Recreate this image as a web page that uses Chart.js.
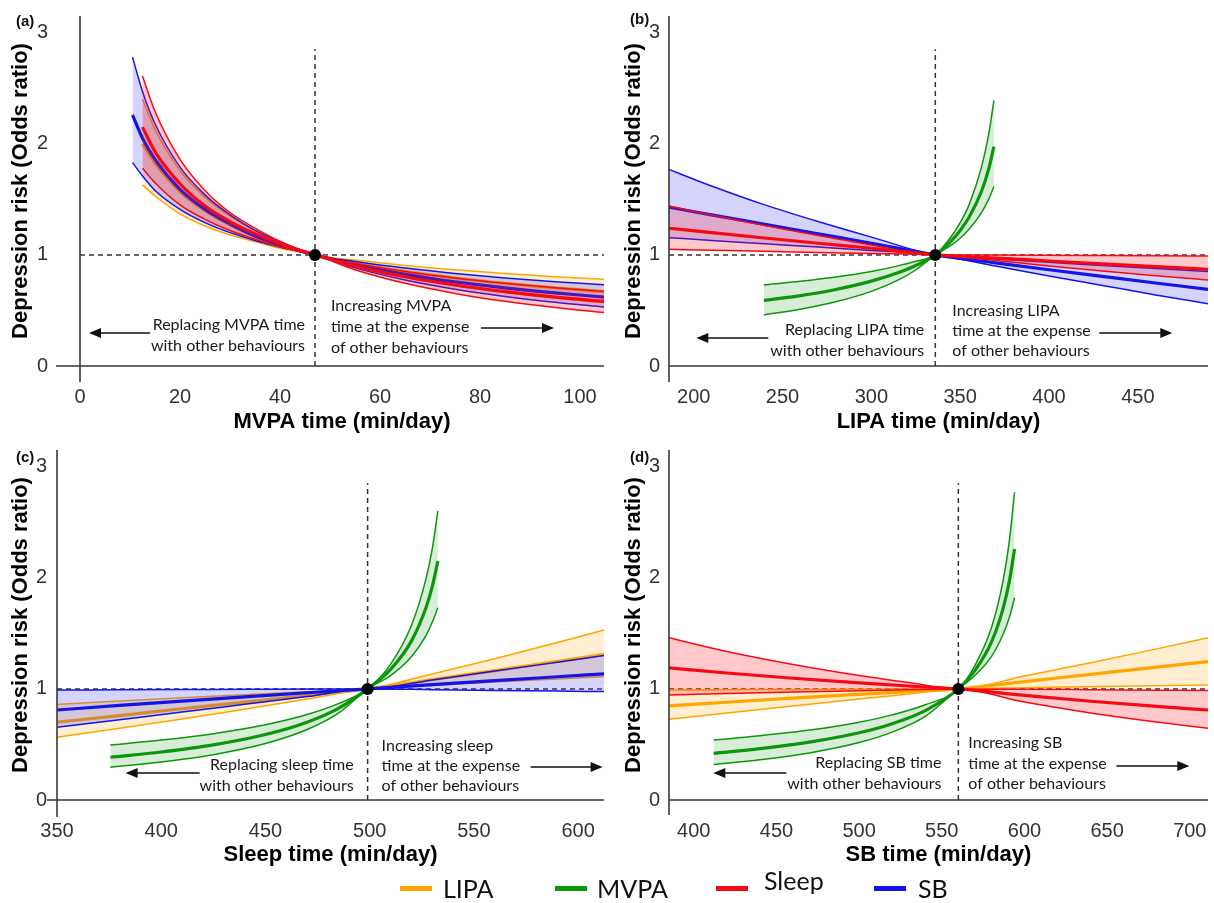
<!DOCTYPE html>
<html><head><meta charset="utf-8">
<script src="https://cdn.jsdelivr.net/npm/chart.js@4.4.1/dist/chart.umd.min.js"></script>
<style>
html,body{margin:0;padding:0;background:#fff;}
#wrap{position:relative;width:1214px;height:903px;overflow:hidden;background:#fff;}
#wrap canvas{position:absolute;}
.lgt{position:absolute;font-family:Lato,"Open Sans",sans-serif;font-size:25px;color:#111;line-height:26px;white-space:nowrap;}
.lgl{position:absolute;height:5px;width:32px;}
</style></head><body>
<div id="wrap">
<canvas id="ca" width="610" height="440" style="left:0px;top:0px"></canvas>
<canvas id="cb" width="604" height="440" style="left:610px;top:0px"></canvas>
<canvas id="cc" width="610" height="430" style="left:0px;top:440px"></canvas>
<canvas id="cd" width="604" height="430" style="left:610px;top:440px"></canvas>
<div id="legend"></div>
</div>
<script>
// ---------- shared ----------
const yTicks = [0, 1, 2, 3];
const yRange = [0, 3.15];
const refTop = 2.85;
const legendNames = ['LIPA', 'MVPA', 'Sleep', 'SB'];

// ---------- Panel (a): MVPA ----------
const aRef = 47;
const aXRange = [0, 104.8];
const aTicks = [0, 20, 40, 60, 80, 100];
const aX_SB = [10.5, 12.5, 15, 20, 25, 30, 35, 40, 47, 55, 65, 75, 85, 95, 105];
const aX = [12.5, 15, 20, 25, 30, 35, 40, 47, 55, 65, 75, 85, 95, 105];
const aLIPA_hi = [2.40, 2.13, 1.76, 1.52, 1.35, 1.22, 1.11, 1, 0.953, 0.905, 0.866, 0.833, 0.804, 0.78];
const aLIPA_mean = [2.00, 1.83, 1.57, 1.40, 1.27, 1.17, 1.09, 1, 0.925, 0.851, 0.792, 0.744, 0.704, 0.67];
const aLIPA_lo = [1.63, 1.53, 1.37, 1.26, 1.18, 1.12, 1.06, 1, 0.896, 0.797, 0.722, 0.661, 0.611, 0.57];
const aSleep_hi = [2.61, 2.29, 1.86, 1.58, 1.38, 1.24, 1.12, 1, 0.925, 0.851, 0.792, 0.744, 0.704, 0.67];
const aSleep_mean = [2.15, 1.93, 1.64, 1.44, 1.30, 1.19, 1.10, 1, 0.899, 0.803, 0.729, 0.669, 0.620, 0.58];
const aSleep_lo = [1.78, 1.65, 1.45, 1.32, 1.22, 1.14, 1.07, 1, 0.866, 0.744, 0.653, 0.582, 0.526, 0.48];
const aSB_hi = [2.78, 2.47, 2.18, 1.79, 1.54, 1.36, 1.22, 1.12, 1, 0.940, 0.881, 0.833, 0.793, 0.759, 0.73];
const aSB_mean = [2.26, 2.05, 1.86, 1.59, 1.41, 1.28, 1.17, 1.09, 1, 0.911, 0.825, 0.757, 0.703, 0.658, 0.62];
const aSB_lo = [1.83, 1.71, 1.58, 1.41, 1.29, 1.20, 1.13, 1.07, 1, 0.883, 0.774, 0.691, 0.626, 0.573, 0.53];

// ---------- Panel (b): LIPA ----------
const bRef = 336;
const bXRange = [186.1, 489.5];
const bTicks = [200, 250, 300, 350, 400, 450];
const bX = [186, 210, 240, 270, 300, 336, 370, 400, 430, 460, 489.5];
const bSB_hi = [1.77, 1.62, 1.45, 1.30, 1.16, 1, 0.963, 0.933, 0.905, 0.877, 0.85];
const bSB_mean = [1.43, 1.36, 1.275, 1.19, 1.105, 1, 0.928, 0.866, 0.806, 0.747, 0.69];
const bSB_lo = [1.155, 1.13, 1.10, 1.07, 1.04, 1, 0.90, 0.81, 0.725, 0.64, 0.56];
const bSleep_hi = [1.44, 1.36, 1.265, 1.175, 1.09, 1, 0.998, 0.996, 0.994, 0.992, 0.99];
const bSleep_mean = [1.24, 1.20, 1.152, 1.105, 1.06, 1, 0.972, 0.945, 0.919, 0.894, 0.87];
const bSleep_lo = [1.05, 1.042, 1.032, 1.022, 1.013, 1, 0.95, 0.90, 0.855, 0.813, 0.775];
const bMX = [239.5, 260, 280, 300, 315, 325, 336, 345, 350, 355, 362, 366, 369];
const bMVPA_hi = [0.73, 0.762, 0.801, 0.851, 0.901, 0.942, 1, 1.165, 1.29, 1.45, 1.79, 2.08, 2.39];
const bMVPA_mean = [0.59, 0.634, 0.689, 0.764, 0.839, 0.905, 1, 1.127, 1.22, 1.338, 1.573, 1.77, 1.975];
const bMVPA_lo = [0.46, 0.511, 0.578, 0.672, 0.773, 0.864, 1, 1.088, 1.15, 1.23, 1.38, 1.50, 1.615];

// ---------- Panel (c): Sleep ----------
const cRef = 499;
const cXRange = [350, 612.4];
const cTicks = [350, 400, 450, 500, 550, 600];
const cX = [350, 380, 410, 440, 470, 499, 530, 560, 590, 612.4];
const cLIPA_hi = [0.86, 0.891, 0.920, 0.948, 0.975, 1, 1.134, 1.272, 1.418, 1.53];
const cLIPA_mean = [0.70, 0.760, 0.821, 0.881, 0.942, 1, 1.083, 1.165, 1.248, 1.31];
const cLIPA_lo = [0.565, 0.645, 0.729, 0.817, 0.908, 1, 1.031, 1.061, 1.089, 1.11];
const cSB_hi = [0.99, 0.992, 0.994, 0.996, 0.998, 1, 1.081, 1.160, 1.240, 1.30];
const cSB_mean = [0.81, 0.851, 0.890, 0.928, 0.965, 1, 1.038, 1.074, 1.109, 1.135];
const cSB_lo = [0.655, 0.723, 0.791, 0.861, 0.931, 1, 0.993, 0.986, 0.980, 0.976];
const cMX = [375.6, 400, 425, 450, 470, 485, 499, 510, 520, 527, 530, 532.7];
const cMVPA_hi = [0.495, 0.539, 0.597, 0.677, 0.769, 0.867, 1, 1.22, 1.57, 1.99, 2.26, 2.60];
const cMVPA_mean = [0.385, 0.432, 0.496, 0.589, 0.700, 0.824, 1, 1.175, 1.43, 1.73, 1.92, 2.15];
const cMVPA_lo = [0.295, 0.342, 0.408, 0.508, 0.634, 0.781, 1, 1.12, 1.29, 1.48, 1.60, 1.73];

// ---------- Panel (d): SB ----------
const dRef = 560;
const dXRange = [385, 711];
const dTicks = [400, 450, 500, 550, 600, 650, 700];
const dX = [385, 420, 460, 500, 530, 560, 600, 640, 680, 711];
const dLIPA_hi = [0.99, 0.992, 0.995, 0.997, 0.9985, 1, 1.116, 1.236, 1.36, 1.46];
const dLIPA_mean = [0.847, 0.880, 0.917, 0.951, 0.976, 1, 1.066, 1.131, 1.196, 1.246];
const dLIPA_lo = [0.727, 0.783, 0.846, 0.908, 0.954, 1, 1.010, 1.020, 1.029, 1.036];
const dSleep_hi = [1.46, 1.337, 1.22, 1.121, 1.057, 1, 0.996, 0.992, 0.988, 0.985];
const dSleep_mean = [1.19, 1.143, 1.096, 1.054, 1.026, 1, 0.941, 0.889, 0.842, 0.81];
const dSleep_lo = [0.946, 0.958, 0.971, 0.983, 0.992, 1, 0.881, 0.783, 0.701, 0.646];
const dMX = [412, 440, 470, 500, 520, 540, 560, 570, 580, 587, 591, 594];
const dMVPA_hi = [0.54, 0.578, 0.629, 0.700, 0.766, 0.857, 1, 1.21, 1.55, 1.97, 2.35, 2.77];
const dMVPA_mean = [0.42, 0.462, 0.521, 0.605, 0.687, 0.805, 1, 1.164, 1.42, 1.72, 1.98, 2.26];
const dMVPA_lo = [0.32, 0.362, 0.424, 0.517, 0.611, 0.753, 1, 1.12, 1.29, 1.49, 1.65, 1.82];

// ---------- styles ----------
const COL = {
  LIPA: {line: '#ffa500', fill: 'rgba(255,165,0,0.19)'},
  MVPA: {line: '#0c960c', fill: 'rgba(20,150,20,0.17)'},
  Sleep: {line: '#f50a14', fill: 'rgba(255,30,40,0.24)'},
  SB: {line: '#1414e6', fill: 'rgba(40,40,255,0.2)'}
};
const SANS = '"Liberation Sans", Arial, sans-serif';
const NOTE = '16px Lato, "Open Sans", sans-serif';

function pts(xs, ys) { return xs.map((x, i) => ({x: x, y: ys[i]})); }
function band(name, xs, hi, mean, lo) {
  const c = COL[name];
  const base = {pointRadius: 0, cubicInterpolationMode: 'monotone', borderColor: c.line};
  return [
    Object.assign({}, base, {data: pts(xs, hi), borderWidth: 1.5, fill: false}),
    Object.assign({}, base, {data: pts(xs, lo), borderWidth: 1.5, fill: '-1', backgroundColor: c.fill}),
    Object.assign({}, base, {data: pts(xs, mean), borderWidth: 3.2, fill: false})
  ];
}
function refSets(ref, xr) {
  const dash = {borderColor: '#333', borderWidth: 1.5, borderDash: [5, 4], pointRadius: 0, fill: false, tension: 0};
  return [
    Object.assign({}, dash, {data: [{x: xr[0], y: 1}, {x: xr[1], y: 1}]}),
    Object.assign({}, dash, {data: [{x: ref, y: 0}, {x: ref, y: refTop}]})
  ];
}
function refPoint(ref) {
  return {data: [{x: ref, y: 1}], showLine: false, pointRadius: 6, pointBackgroundColor: '#000', pointBorderColor: '#000', pointBorderWidth: 0, fill: false};
}

function arrow(ctx, x1, x2, yy) {
  const dir = Math.sign(x2 - x1);
  ctx.beginPath(); ctx.moveTo(x1, yy); ctx.lineTo(x2 - dir * 8, yy);
  ctx.lineWidth = 1.5; ctx.strokeStyle = '#111'; ctx.stroke();
  ctx.beginPath(); ctx.moveTo(x2, yy); ctx.lineTo(x2 - dir * 12, yy - 5); ctx.lineTo(x2 - dir * 12, yy + 5);
  ctx.closePath(); ctx.fillStyle = '#111'; ctx.fill();
}

const deco = {
  id: 'deco',
  afterDraw(chart, args, o) {
    const ctx = chart.ctx, ca = chart.chartArea, xs = chart.scales.x, ys = chart.scales.y;
    ctx.save();
    const y0 = ys.getPixelForValue(0);
    const xl = xs.getPixelForValue(xs.min);
    ctx.strokeStyle = '#3a3a3a'; ctx.lineWidth = 1.6;
    ctx.beginPath();
    ctx.moveTo(xl - o.xExt, y0); ctx.lineTo(ca.right, y0);
    ctx.moveTo(xl, ca.top); ctx.lineTo(xl, y0 + o.yExt);
    ctx.stroke();
    ctx.fillStyle = '#111'; ctx.textBaseline = 'middle'; ctx.textAlign = 'left';
    ctx.font = 'bold 15px ' + SANS;
    ctx.fillText(o.label, o.lx, o.ly);
    const rx = xs.getPixelForValue(o.ref);
    ctx.font = NOTE; ctx.fillStyle = '#1a1a1a';
    ctx.textAlign = 'right';
    o.left.forEach((t, i) => ctx.fillText(t, rx - o.lg, y0 + o.lyy[i]));
    ctx.textAlign = 'left';
    o.right.forEach((t, i) => ctx.fillText(t, rx + o.rg, y0 + o.ryy[i]));
    arrow(ctx, rx + o.la[0], rx + o.la[1], y0 + o.la[2]);
    arrow(ctx, rx + o.ra[0], rx + o.ra[1], y0 + o.ra[2]);
    ctx.restore();
  }
};

function makeChart(id, p) {
  const sets = p.datasets;
  const n = sets.length;
  sets.forEach((d, i) => { d.order = n - i; });
  return new Chart(document.getElementById(id), {
    type: 'line',
    data: {datasets: sets},
    options: {
      responsive: false, animation: false, devicePixelRatio: 1,
      layout: {padding: {top: p.padTop, right: p.padRight, left: 0, bottom: 0}},
      elements: {line: {tension: 0}, point: {radius: 0}},
      plugins: {
        legend: {display: false}, tooltip: {enabled: false},
        filler: {drawTime: 'beforeDatasetDraw', propagate: false},
        deco: p.deco
      },
      scales: {
        x: {
          type: 'linear', min: p.xRange[0], max: p.xRange[1],
          grid: {display: false, drawTicks: false}, border: {display: false},
          ticks: {padding: 19, autoSkip: false, maxRotation: 0, color: '#333', font: {family: SANS, size: 20}},
          afterBuildTicks: s => { s.ticks = p.xTicks.map(v => ({value: v})); },
          afterFit: s => { s.height = p.xH; s.paddingLeft = 0; s.paddingRight = 0; },
          title: {display: true, text: p.xTitle, color: '#000', font: {family: SANS, size: 22, weight: 'bold'}, padding: {top: 0, bottom: p.xTitlePad}}
        },
        y: {
          type: 'linear', min: yRange[0], max: yRange[1],
          grid: {display: false, drawTicks: false}, border: {display: false},
          ticks: {padding: p.yTickPad, color: '#333', font: {family: SANS, size: 20}},
          afterBuildTicks: s => { s.ticks = yTicks.map(v => ({value: v})); },
          afterFit: s => { s.width = p.yW; s.paddingTop = 0; s.paddingBottom = 0; },
          title: {display: true, text: 'Depression risk (Odds ratio)', color: '#000', font: {family: SANS, size: 22, weight: 'bold'}, padding: {top: p.yTitlePad, bottom: 0}}
        }
      }
    },
    plugins: [deco]
  });
}

// Panel (a)
makeChart('ca', {
  xRange: aXRange, xTicks: aTicks, xTitle: 'MVPA time (min/day)',
  padTop: 16, padRight: 2, xH: 74, yW: 80, yTickPad: 32, yTitlePad: 8, xTitlePad: 5,
  datasets: [].concat(refSets(aRef, aXRange),
    band('LIPA', aX, aLIPA_hi, aLIPA_mean, aLIPA_lo),
    band('SB', aX_SB, aSB_hi, aSB_mean, aSB_lo),
    band('Sleep', aX, aSleep_hi, aSleep_mean, aSleep_lo),
    [refPoint(aRef)]),
  deco: {label: '(a)', lx: 16, ly: 22, ref: aRef, xExt: 24, yExt: 16,
    left: ['Replacing MVPA time', 'with other behaviours'], lg: 10, lyy: [-41, -20],
    right: ['Increasing MVPA', 'time at the expense', 'of other behaviours'], rg: 16, ryy: [-60, -39, -18],
    la: [-165, -226, -33], ra: [166, 239, -38]}
});
// Panel (b)
makeChart('cb', {
  xRange: bXRange, xTicks: bTicks, xTitle: 'LIPA time (min/day)',
  padTop: 16, padRight: 0, xH: 74, yW: 59, yTickPad: 9, yTitlePad: 11, xTitlePad: 5,
  datasets: [].concat(refSets(bRef, bXRange),
    band('SB', bX, bSB_hi, bSB_mean, bSB_lo),
    band('Sleep', bX, bSleep_hi, bSleep_mean, bSleep_lo),
    band('MVPA', bMX, bMVPA_hi, bMVPA_mean, bMVPA_lo),
    [refPoint(bRef)]),
  deco: {label: '(b)', lx: 20, ly: 20, ref: bRef, xExt: 0, yExt: 16,
    left: ['Replacing LIPA time', 'with other behaviours'], lg: 11, lyy: [-36, -15],
    right: ['Increasing LIPA', 'time at the expense', 'of other behaviours'], rg: 17, ryy: [-55, -35, -15],
    la: [-167, -239, -28], ra: [164, 237, -33]}
});
// Panel (c)
makeChart('cc', {
  xRange: cXRange, xTicks: cTicks, xTitle: 'Sleep time (min/day)',
  padTop: 10, padRight: 2, xH: 70, yW: 57, yTickPad: 10, yTitlePad: 8, xTitlePad: 2,
  datasets: [].concat(refSets(cRef, cXRange),
    band('LIPA', cX, cLIPA_hi, cLIPA_mean, cLIPA_lo),
    band('SB', cX, cSB_hi, cSB_mean, cSB_lo),
    band('MVPA', cMX, cMVPA_hi, cMVPA_mean, cMVPA_lo),
    [refPoint(cRef)]),
  deco: {label: '(c)', lx: 16, ly: 18, ref: cRef, xExt: 10, yExt: 17,
    left: ['Replacing sleep time', 'with other behaviours'], lg: 14, lyy: [-35, -14],
    right: ['Increasing sleep', 'time at the expense', 'of other behaviours'], rg: 14, ryy: [-54, -34, -14],
    la: [-168, -242, -27], ra: [163, 235, -33]}
});
// Panel (d)
makeChart('cd', {
  xRange: dXRange, xTicks: dTicks, xTitle: 'SB time (min/day)',
  padTop: 10, padRight: 0, xH: 70, yW: 59, yTickPad: 9, yTitlePad: 11, xTitlePad: 2,
  datasets: [].concat(refSets(dRef, dXRange),
    band('LIPA', dX, dLIPA_hi, dLIPA_mean, dLIPA_lo),
    band('Sleep', dX, dSleep_hi, dSleep_mean, dSleep_lo),
    band('MVPA', dMX, dMVPA_hi, dMVPA_mean, dMVPA_lo),
    [refPoint(dRef)]),
  deco: {label: '(d)', lx: 20, ly: 18, ref: dRef, xExt: 0, yExt: 15,
    left: ['Replacing SB time', 'with other behaviours'], lg: 17, lyy: [-37, -16],
    right: ['Increasing SB', 'time at the expense', 'of other behaviours'], rg: 10, ryy: [-57, -36, -16],
    la: [-172, -245, -27], ra: [158, 231, -34]}
});

// Legend
const legendPos = [
  {line: 400, text: 443, y: 888},
  {line: 555, text: 597, y: 888},
  {line: 716, text: 764, y: 880},
  {line: 874, text: 918, y: 888}
];
const lg = document.getElementById('legend');
legendNames.forEach((nm, i) => {
  const p = legendPos[i];
  const l = document.createElement('div');
  l.className = 'lgl'; l.style.left = p.line + 'px'; l.style.top = (888 - 2.5) + 'px';
  l.style.background = COL[nm].line;
  lg.appendChild(l);
  const t = document.createElement('div');
  t.className = 'lgt'; t.textContent = nm; t.style.left = p.text + 'px'; t.style.top = (p.y - 13) + 'px';
  lg.appendChild(t);
});
</script>
</body></html>
